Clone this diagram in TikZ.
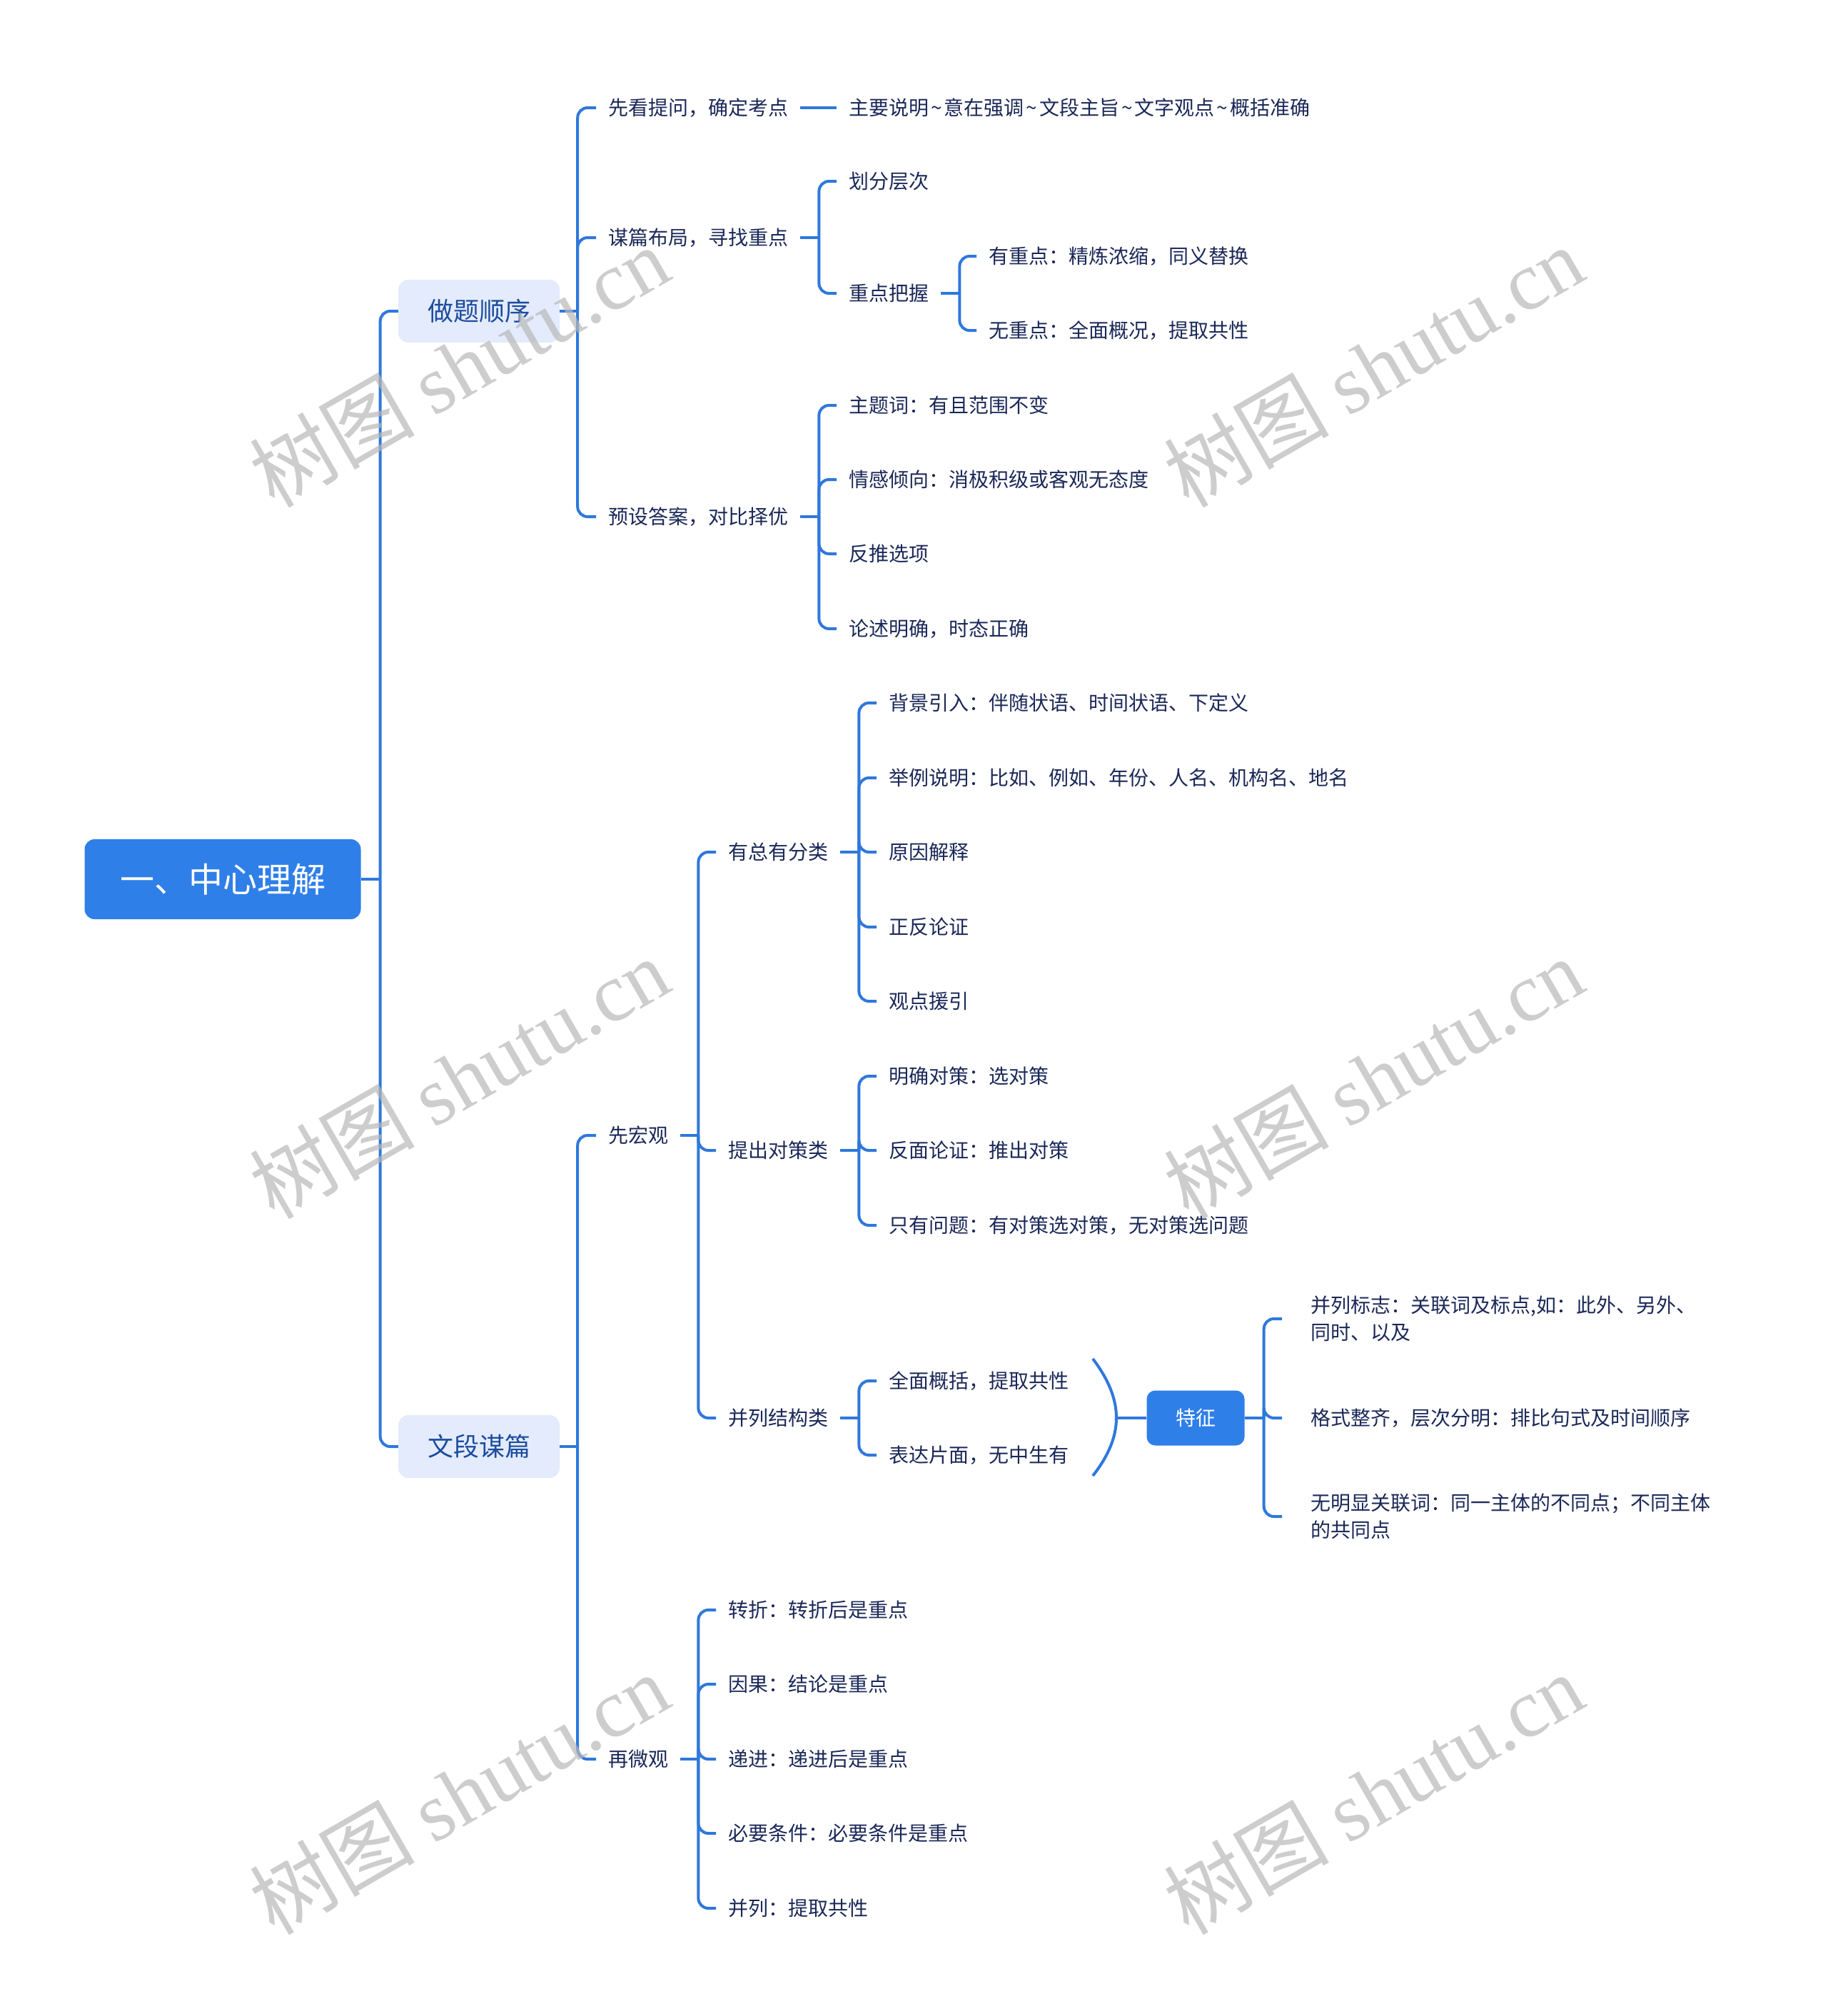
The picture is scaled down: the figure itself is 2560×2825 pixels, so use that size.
\documentclass[tikz,border=0pt]{standalone}
\usepackage{fontspec}
\setmainfont{Noto Sans CJK SC}
\newfontfamily\wmlat{Liberation Serif}
\newfontfamily\wmcjk{Noto Sans CJK SC}
\usetikzlibrary{calc}
\definecolor{lineblue}{HTML}{2F78DC}
\definecolor{rootblue}{HTML}{2F7FE8}
\definecolor{boxfill}{HTML}{E3EBFC}
\definecolor{lvtext}{HTML}{1D4C9E}
\definecolor{leaftext}{HTML}{1B2858}
\definecolor{wmgray}{HTML}{B8B8B8}
\newcommand{\tld}{\kern3pt\textasciitilde\kern3pt}
\begin{document}
\begin{tikzpicture}[x=1pt,y=-1pt,
  conn/.style={draw=lineblue,line width=4pt,rounded corners=14pt},
  leaf/.style={anchor=west,inner xsep=17pt,inner ysep=4pt,text=leaftext,font=\fontsize{28}{38}\selectfont},
  wideleaf/.style={leaf,inner xsep=40pt,align=left},
  lvlbox/.style={rounded corners=14pt,fill=boxfill,text=lvtext,font=\fontsize{36}{40}\selectfont,minimum width=226pt,minimum height=88pt,inner sep=0pt},
  rootbox/.style={rounded corners=14pt,fill=rootblue,text=white,font=\fontsize{48}{52}\selectfont,minimum width=387pt,minimum height=112pt,inner sep=0pt},
  featbox/.style={rounded corners=12pt,fill=rootblue,text=white,font=\fontsize{28}{32}\selectfont,minimum width=137pt,minimum height=77pt,inner sep=0pt},
  wm/.style={rotate=30,text=wmgray,opacity=0.7,font=\fontsize{116}{120}\selectfont}
]
\fill[white] (0,0) rectangle (2560,2825);
\useasboundingbox (0,0) rectangle (2560,2825);

% root and level 1
\node[rootbox] (root) at (312,1232) {一、中心理解};
\node[lvlbox] (b1) at (671,436) {做题顺序};
\node[lvlbox] (b2) at (671,2027) {文段谋篇};
\coordinate (j0) at ([xshift=27pt]root.east);
\draw[conn] (root.east) -- (j0);
\draw[conn] (j0) |- (b1.west);
\draw[conn] (j0) |- (b2.west);

% 做题顺序 branch
\node[leaf] (a1) at (835,151) {先看提问，确定考点};
\node[leaf] (a2) at (835,333) {谋篇布局，寻找重点};
\node[leaf] (a3) at (835,724) {预设答案，对比择优};
\coordinate (j1) at ([xshift=25pt]b1.east);
\draw[conn] (b1.east) -- (j1);
\foreach \c in {a1,a2,a3} \draw[conn] (j1) |- (\c.west);

\node[leaf] (c1) at (1172,151) {主要说明\tld 意在强调\tld 文段主旨\tld 文字观点\tld 概括准确};
\draw[conn] (a1.east) -- (c1.west);

\node[leaf] (d1) at (1172,254) {划分层次};
\node[leaf] (d2) at (1172,411) {重点把握};
\coordinate (j2) at ([xshift=26pt]a2.east);
\draw[conn] (a2.east) -- (j2);
\foreach \c in {d1,d2} \draw[conn] (j2) |- (\c.west);

\node[leaf] (e1) at (1368,359) {有重点：精炼浓缩，同义替换};
\node[leaf] (e2) at (1368,463) {无重点：全面概况，提取共性};
\coordinate (j3) at ([xshift=26pt]d2.east);
\draw[conn] (d2.east) -- (j3);
\foreach \c in {e1,e2} \draw[conn] (j3) |- (\c.west);

\node[leaf] (f1) at (1172,568) {主题词：有且范围不变};
\node[leaf] (f2) at (1172,672) {情感倾向：消极积级或客观无态度};
\node[leaf] (f3) at (1172,776) {反推选项};
\node[leaf] (f4) at (1172,881) {论述明确，时态正确};
\coordinate (j4) at ([xshift=26pt]a3.east);
\draw[conn] (a3.east) -- (j4);
\foreach \c in {f1,f2,f3,f4} \draw[conn] (j4) |- (\c.west);

% 文段谋篇 branch
\node[leaf] (g1) at (835,1591) {先宏观};
\node[leaf] (g2) at (835,2465) {再微观};
\coordinate (j5) at ([xshift=25pt]b2.east);
\draw[conn] (b2.east) -- (j5);
\foreach \c in {g1,g2} \draw[conn] (j5) |- (\c.west);

\node[leaf] (h1) at (1003,1194) {有总有分类};
\node[leaf] (h2) at (1003,1612) {提出对策类};
\node[leaf] (h3) at (1003,1987) {并列结构类};
\coordinate (j6) at ([xshift=25pt]g1.east);
\draw[conn] (g1.east) -- (j6);
\foreach \c in {h1,h2,h3} \draw[conn] (j6) |- (\c.west);

\node[leaf] (i1) at (1228,985) {背景引入：伴随状语、时间状语、下定义};
\node[leaf] (i2) at (1228,1090) {举例说明：比如、例如、年份、人名、机构名、地名};
\node[leaf] (i3) at (1228,1194) {原因解释};
\node[leaf] (i4) at (1228,1299) {正反论证};
\node[leaf] (i5) at (1228,1403) {观点援引};
\coordinate (j7) at ([xshift=26pt]h1.east);
\draw[conn] (h1.east) -- (j7);
\foreach \c in {i1,i2,i3,i4,i5} \draw[conn] (j7) |- (\c.west);

\node[leaf] (k1) at (1228,1508) {明确对策：选对策};
\node[leaf] (k2) at (1228,1612) {反面论证：推出对策};
\node[leaf] (k3) at (1228,1717) {只有问题：有对策选对策，无对策选问题};
\coordinate (j8) at ([xshift=26pt]h2.east);
\draw[conn] (h2.east) -- (j8);
\foreach \c in {k1,k2,k3} \draw[conn] (j8) |- (\c.west);

\node[leaf] (m1) at (1228,1935) {全面概括，提取共性};
\node[leaf] (m2) at (1228,2039) {表达片面，无中生有};
\coordinate (j9) at ([xshift=26pt]h3.east);
\draw[conn] (h3.east) -- (j9);
\foreach \c in {m1,m2} \draw[conn] (j9) |- (\c.west);

% summary arc and feature node
\coordinate (arcT) at (1531,1904);
\coordinate (arcB) at (1531,2068);
\coordinate (arcM) at (1564,1987);
\draw[draw=lineblue,line width=4pt] (arcT) .. controls (1575,1962) and (1575,2012) .. (arcB);
\node[featbox] (T) at (1675,1987) {特征};
\draw[conn] (arcM) -- (T.west);

\node[wideleaf] (n1) at (1796,1848) {并列标志：关联词及标点,如：此外、另外、\\同时、以及};
\node[wideleaf] (n2) at (1796,1987) {格式整齐，层次分明：排比句式及时间顺序};
\node[wideleaf] (n3) at (1796,2125) {无明显关联词：同一主体的不同点；不同主体\\的共同点};
\coordinate (j10) at ([xshift=27pt]T.east);
\draw[conn] (T.east) -- (j10);
\foreach \c in {n1,n2,n3} \draw[conn] (j10) |- (\c.west);

\node[leaf] (p1) at (1003,2256) {转折：转折后是重点};
\node[leaf] (p2) at (1003,2360) {因果：结论是重点};
\node[leaf] (p3) at (1003,2465) {递进：递进后是重点};
\node[leaf] (p4) at (1003,2569) {必要条件：必要条件是重点};
\node[leaf] (p5) at (1003,2674) {并列：提取共性};
\coordinate (j11) at ([xshift=25pt]g2.east);
\draw[conn] (g2.east) -- (j11);
\foreach \c in {p1,p2,p3,p4,p5} \draw[conn] (j11) |- (\c.west);

% watermarks
\node[wm] (w1) at (643,513) {\wmcjk 树图 \wmlat shutu.cn};
\node[wm] (w2) at (1924,513) {\wmcjk 树图 \wmlat shutu.cn};
\node[wm] (w3) at (643,1510) {\wmcjk 树图 \wmlat shutu.cn};
\node[wm] (w4) at (1924,1510) {\wmcjk 树图 \wmlat shutu.cn};
\node[wm] (w5) at (643,2513) {\wmcjk 树图 \wmlat shutu.cn};
\node[wm] (w6) at (1924,2513) {\wmcjk 树图 \wmlat shutu.cn};
\end{tikzpicture}
\end{document}
